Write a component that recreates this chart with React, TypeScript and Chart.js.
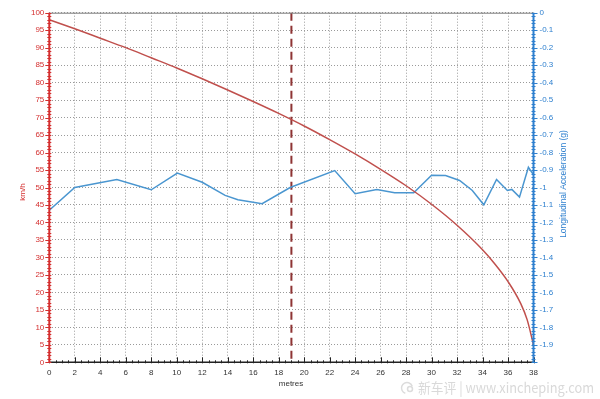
import React, { useEffect, useRef } from "react";
import { Chart, registerables } from "chart.js";

Chart.register(...registerables);

// Speed trace (km/h) vs distance (metres)
const speedDistance = [0, 2, 4, 6, 8, 10, 12, 14, 16, 18, 20, 22, 24, 26, 28, 30, 32, 34, 35, 36, 37, 37.5, 38];
const speedKmh = [98.0, 95.4, 92.7, 90.0, 87.1, 84.2, 81.1, 77.9, 74.6, 71.2, 67.6, 63.7, 59.6, 55.2, 50.5, 45.2, 39.2, 32.2, 28.0, 23.1, 16.8, 12.2, 5.0];

// Longitudinal acceleration (g) vs distance (metres)
const accelDistance = [0, 2.0, 5.3, 8.0, 10.05, 12.0, 13.8, 14.8, 16.7, 18.9, 22.4, 24.0, 25.7, 27.1, 28.6, 30.0, 31.1, 32.2, 33.2, 34.1, 35.1, 35.95, 36.3, 36.9, 37.6, 38.0];
const accelG = [-1.13, -1.0, -0.955, -1.013, -0.918, -0.97, -1.045, -1.07, -1.093, -1.0, -0.903, -1.036, -1.011, -1.03, -1.03, -0.93, -0.931, -0.96, -1.017, -1.099, -0.954, -1.017, -1.011, -1.055, -0.884, -0.927];

// Marker position (metres)
const markerDistance = 19;

// Axis ranges / tick steps
const xMin = 0, xMax = 38, xStep = 2, xMinorStep = 0.5;
const speedMin = 0, speedMax = 100, speedStep = 5, speedMinorStep = 1;
const accelMin = -2, accelMax = 0, accelStep = 0.1, accelMinorStep = 0.02;

const xTitle = "metres";
const speedTitle = "km/h";
const accelTitle = "Longitudinal Acceleration (g)";
const watermarkText = "新车评 | www.xincheping.com";

const FONT = "'Liberation Sans', Arial, sans-serif";
const RED_AXIS = "#d42f2f";
const RED_LINE = "#c0504d";
const BLUE_AXIS = "#2f80cf";
const BLUE_LINE = "#4a96d0";

const overlayPlugin = {
  id: "overlay",
  beforeDatasetsDraw(chart: any) {
    const { ctx, chartArea, scales } = chart;
    const x = scales.x.getPixelForValue(markerDistance);
    ctx.save();
    ctx.strokeStyle = "#8e3434";
    ctx.lineWidth = 2;
    ctx.setLineDash([8, 5]);
    ctx.beginPath();
    ctx.moveTo(x, chartArea.top);
    ctx.lineTo(x, chartArea.bottom);
    ctx.stroke();
    ctx.restore();
  },
  afterDraw(chart: any) {
    const { ctx, chartArea, scales } = chart;
    const { left, right, top, bottom } = chartArea;
    ctx.save();
    // top border
    ctx.strokeStyle = "#7a7a7a";
    ctx.lineWidth = 1;
    ctx.beginPath();
    ctx.moveTo(left, top + 0.5);
    ctx.lineTo(right, top + 0.5);
    ctx.stroke();

    // bottom axis
    ctx.strokeStyle = "#222";
    ctx.lineWidth = 1.5;
    ctx.beginPath();
    ctx.moveTo(left, bottom);
    ctx.lineTo(right, bottom);
    ctx.stroke();
    ctx.lineWidth = 1;
    for (let v = xMin; v <= xMax + 1e-9; v += xMinorStep) {
      const px = Math.round(scales.x.getPixelForValue(v)) + 0.5;
      const major = Math.abs(v / xStep - Math.round(v / xStep)) < 1e-6;
      ctx.beginPath();
      ctx.moveTo(px, bottom - (major ? 5 : 2));
      ctx.lineTo(px, bottom + 1);
      ctx.stroke();
    }

    // left axis
    ctx.strokeStyle = RED_AXIS;
    ctx.lineWidth = 2;
    ctx.beginPath();
    ctx.moveTo(left, top);
    ctx.lineTo(left, bottom);
    ctx.stroke();
    ctx.lineWidth = 1;
    for (let v = speedMin; v <= speedMax + 1e-9; v += speedMinorStep) {
      const py = Math.round(scales.y.getPixelForValue(v)) + 0.5;
      const major = v % speedStep === 0;
      ctx.beginPath();
      ctx.moveTo(left - (major ? 4 : 2), py);
      ctx.lineTo(left + 2, py);
      ctx.stroke();
    }

    // right axis
    ctx.strokeStyle = BLUE_AXIS;
    ctx.lineWidth = 2;
    ctx.beginPath();
    ctx.moveTo(right, top);
    ctx.lineTo(right, bottom);
    ctx.stroke();
    ctx.lineWidth = 1;
    const n = Math.round((accelMax - accelMin) / accelMinorStep);
    for (let i = 0; i <= n; i++) {
      const v = accelMin + i * accelMinorStep;
      const py = Math.round(scales.y1.getPixelForValue(v)) + 0.5;
      const major = i % Math.round(accelStep / accelMinorStep) === 0;
      ctx.beginPath();
      ctx.moveTo(right - 2, py);
      ctx.lineTo(right + (major ? 4 : 2), py);
      ctx.stroke();
    }

    // titles
    ctx.textAlign = "center";
    ctx.textBaseline = "middle";
    ctx.font = `8px ${FONT}`;
    ctx.fillStyle = "#333";
    ctx.fillText(xTitle, 291, 383.5);

    ctx.save();
    ctx.translate(23, 192);
    ctx.rotate(-Math.PI / 2);
    ctx.fillStyle = RED_AXIS;
    ctx.fillText(speedTitle, 0, 0);
    ctx.restore();

    ctx.save();
    ctx.translate(563.5, 184);
    ctx.rotate(-Math.PI / 2);
    ctx.font = `8.5px ${FONT}`;
    ctx.fillStyle = BLUE_AXIS;
    ctx.fillText(accelTitle, 0, 0);
    ctx.restore();

    // watermark
    ctx.strokeStyle = "#dcdcdc";
    ctx.lineWidth = 1.5;
    ctx.beginPath();
    ctx.arc(407, 388, 5.5, Math.PI * 0.6, Math.PI * 1.9);
    ctx.stroke();
    ctx.beginPath();
    ctx.arc(410, 389, 2.5, 0, Math.PI * 2);
    ctx.stroke();
    ctx.fillStyle = "#d9d9d9";
    ctx.textAlign = "left";
    ctx.font = `14px 'Noto Sans CJK SC', ${FONT}`;
    const w = ctx.measureText(watermarkText).width;
    const target = 176;
    ctx.save();
    ctx.translate(418, 388);
    ctx.scale(target / w, 1);
    ctx.fillText(watermarkText, 0, 0);
    ctx.restore();

    ctx.restore();
  },
};

export default function App() {
  const ref = useRef<HTMLCanvasElement | null>(null);

  useEffect(() => {
    if (!ref.current) return;
    const chart = new Chart(ref.current, {
      type: "line",
      data: {
        datasets: [
          {
            label: "Speed",
            data: speedDistance.map((d, i) => ({ x: d, y: speedKmh[i] })),
            borderColor: RED_LINE,
            borderWidth: 1.5,
            pointRadius: 0,
            tension: 0.4,
            cubicInterpolationMode: "monotone",
            yAxisID: "y",
          },
          {
            label: "Acceleration",
            data: accelDistance.map((d, i) => ({ x: d, y: accelG[i] })),
            borderColor: BLUE_LINE,
            borderWidth: 1.5,
            pointRadius: 0,
            tension: 0,
            yAxisID: "y1",
          },
        ],
      },
      options: {
        responsive: false,
        animation: false,
        devicePixelRatio: 1,
        layout: { padding: { top: 12.7, left: 0, right: 0, bottom: 0 } },
        plugins: { legend: { display: false }, tooltip: { enabled: false } },
        scales: {
          x: {
            type: "linear",
            min: xMin,
            max: xMax,
            afterFit: (s: any) => { s.height = 36.7; },
            ticks: { stepSize: xStep, color: "#333", font: { size: 8, family: FONT }, padding: 6, maxRotation: 0, autoSkip: false },
            grid: { color: "#9a9a9a", lineWidth: 1, drawTicks: false },
            border: { display: false, dash: [1, 2] },
          },
          y: {
            type: "linear",
            position: "left",
            min: speedMin,
            max: speedMax,
            afterFit: (s: any) => { s.width = 49.3; },
            ticks: { stepSize: speedStep, color: RED_AXIS, font: { size: 8, family: FONT }, padding: 5, autoSkip: false },
            grid: { color: "#9a9a9a", lineWidth: 1, drawTicks: false },
            border: { display: false, dash: [1, 2] },
          },
          y1: {
            type: "linear",
            position: "right",
            min: accelMin,
            max: accelMax,
            afterFit: (s: any) => { s.width = 66.5; },
            ticks: {
              stepSize: accelStep,
              color: BLUE_AXIS,
              font: { size: 8, family: FONT },
              padding: 6,
              autoSkip: false,
              callback: (v: any) => (v <= accelMin + 1e-6 ? "" : String(Number(Number(v).toFixed(1)))),
            },
            grid: { display: false, drawTicks: false },
            border: { display: false },
          },
        },
      },
      plugins: [overlayPlugin],
    } as any);
    return () => chart.destroy();
  }, []);

  return (
    <div style={{ position: "fixed", left: 0, top: 0, width: 600, height: 399, background: "#fff" }}>
      <canvas ref={ref} width={600} height={399} style={{ display: "block", width: 600, height: 399 }} />
    </div>
  );
}
